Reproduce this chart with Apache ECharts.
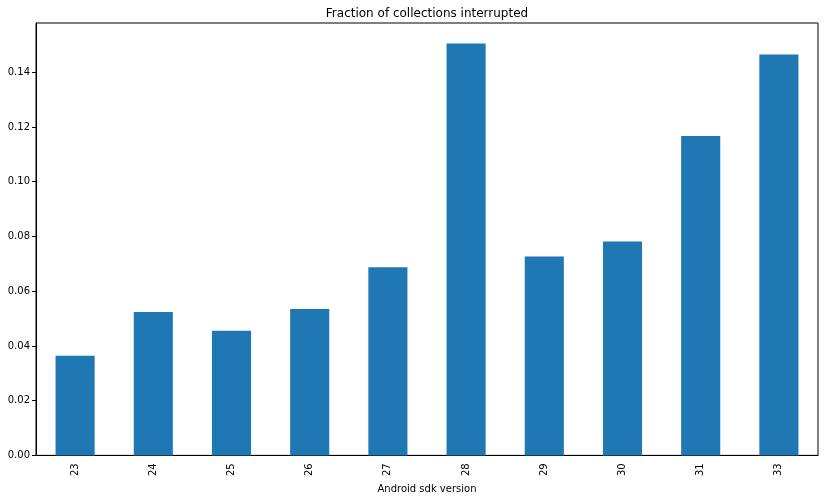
<!DOCTYPE html>
<html>
<head>
<meta charset="utf-8">
<script src="https://cdn.jsdelivr.net/npm/echarts@6/dist/echarts.min.js"></script>
<style>
  html, body { margin: 0; padding: 0; background: #fff; }
  #chart { width: 824px; height: 499px; }
</style>
</head>
<body>
<div id="chart"></div>
<script>
// sdk versions on the x axis
var sdkVersions = ["23", "24", "25", "26", "27", "28", "29", "30", "31", "33"];
// fraction of collections interrupted per version
var interruptedFraction = [0.0364, 0.0524, 0.0455, 0.0535, 0.0687, 0.1505, 0.0727, 0.0782, 0.1167, 0.1465];

var myChart = echarts.init(document.getElementById("chart"));

var option = {
    animation: false,
    title: {
        text: "Fraction of collections interrupted",
        left: 422,
        top: 3,
        textAlign: "center",
        textStyle: { fontFamily: "DejaVu Sans", fontSize: 12, fontWeight: "normal", color: "#000" }
    },
    grid: {
        left: 36,
        right: 6,
        top: 23,
        bottom: 41,
        show: true,
        borderColor: "#000",
        borderWidth: 1
    },
    xAxis: {
        type: "category",
        data: sdkVersions,
        name: "Android sdk version",
        nameLocation: "middle",
        nameGap: 24,
        nameTextStyle: { fontFamily: "DejaVu Sans", fontSize: 10, color: "#000" },
        axisLine: { lineStyle: { color: "#000", width: 1 } },
        axisTick: { alignWithLabel: true, length: 4, lineStyle: { color: "#000" } },
        axisLabel: { rotate: 90, fontFamily: "DejaVu Sans", fontSize: 10, color: "#000", margin: 8 },
        splitLine: { show: false }
    },
    yAxis: {
        type: "value",
        min: 0,
        max: 0.158,
        interval: 0.02,
        axisLine: { show: true, lineStyle: { color: "#000", width: 1 } },
        axisTick: { show: true, length: 4, lineStyle: { color: "#000" } },
        axisLabel: {
            showMaxLabel: false,
            fontFamily: "DejaVu Sans",
            fontSize: 10,
            color: "#000",
            margin: 6,
            formatter: function (v) { return v.toFixed(2); }
        },
        splitLine: { show: false }
    },
    series: [{
        type: "bar",
        data: interruptedFraction,
        barWidth: "50%",
        itemStyle: { color: "#1f77b4" }
    }]
};

myChart.setOption(option);
</script>
</body>
</html>
